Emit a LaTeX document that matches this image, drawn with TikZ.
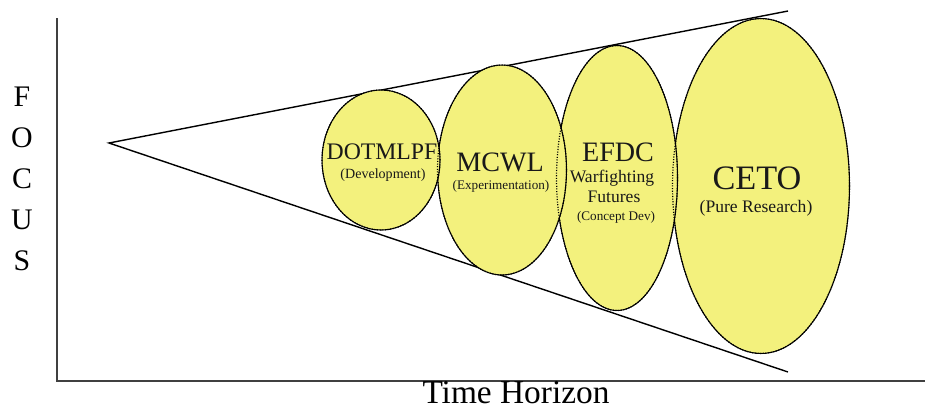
\documentclass[tikz,border=0pt]{standalone}
\usepackage{fontspec}
\setmainfont{Liberation Serif}
\usetikzlibrary{shapes.geometric, positioning}
\definecolor{giallo}{RGB}{243,241,125}

% centro x / centro y / larghezza / altezza (cm) delle bolle, dalla piu' grande
\def\bolle{ceto/761/186/3.54/6.7, efdc/617/178/2.42/5.3,
           mcwl/502/170/2.58/4.2, dotmlpf/381/160/2.36/2.8}

\begin{document}
\begin{tikzpicture}[
  x=0.02cm, y=-0.02cm,
  asse/.style={draw=black!75, line width=1.1pt},
  cono/.style={draw=black, line width=0.8pt},
  bolla/.style={ellipse, draw=black, line width=0.6pt, fill=giallo, inner sep=0pt},
  traccia/.style={ellipse, draw=black, dash pattern=on 0.6pt off 0.9pt, line width=0.7pt, inner sep=0pt},
  sigla/.style={inner sep=0pt, text=black!90},
  lettera/.style={inner sep=0pt, font=\fontsize{17}{17}\selectfont}
]
\useasboundingbox (0,0) rectangle (925,410);

% ---- assi -------------------------------------------------------------
\coordinate (cima) at (57,18);
\coordinate (origine) at (57,381);
\coordinate (fine) at (925,381);
\draw[asse] (cima) -- (origine) -- (fine);

\foreach \l [count=\i] in {F,O,C,U,S}
  \node[lettera] (focus\i) at (22,{56+41*\i}) {\l};
\node[inner sep=0pt, font=\fontsize{19}{19}\selectfont] (orizzonte) at (516,393) {Time Horizon};

% ---- cono (sotto le bolle) -------------------------------------------
\coordinate (vertice) at (109,143);
\coordinate (alto) at (788,11);
\coordinate (basso) at (788,372);
\draw[cono] (alto) -- (vertice) -- (basso);

% ---- bolle: la piu' piccola sta sopra, i bordi nascosti punteggiati ---
\foreach \n/\cx/\cy/\w/\h in \bolle
  \node[bolla, minimum width=\w cm, minimum height=\h cm] (\n) at (\cx,\cy) {};
\foreach \n/\cx/\cy/\w/\h in \bolle
  \node[traccia, minimum width=\w cm, minimum height=\h cm] (\n-bordo) at (\cx,\cy) {};

% ---- testi -----------------------------------------------------------
\node[sigla, font=\fontsize{13.5}{13.5}\selectfont] (t-dotmlpf) at (382,152) {DOTMLPF};
\node[sigla, font=\fontsize{8}{8}\selectfont] (n-dotmlpf) at (383,175) {(Development)};

\node[sigla, font=\fontsize{16}{16}\selectfont] (t-mcwl) at (500,162) {MCWL};
\node[sigla, font=\fontsize{7.5}{7.5}\selectfont] (n-mcwl) at (501,186) {(Experimentation)};

\node[sigla, font=\fontsize{16}{16}\selectfont] (t-efdc) at (618,152) {EFDC};
\node[sigla, font=\fontsize{10}{10}\selectfont] (w-efdc) at (612,178) {Warfighting};
\node[sigla, font=\fontsize{10}{10}\selectfont] (f-efdc) at (614,197) {Futures};
\node[sigla, font=\fontsize{7.5}{7.5}\selectfont] (n-efdc) at (616,217) {(Concept Dev)};

\node[sigla, font=\fontsize{19.5}{19.5}\selectfont] (t-ceto) at (757,178) {CETO};
\node[sigla, font=\fontsize{10}{10}\selectfont] (n-ceto) at (756,208) {(Pure Research)};

\end{tikzpicture}
\end{document}
